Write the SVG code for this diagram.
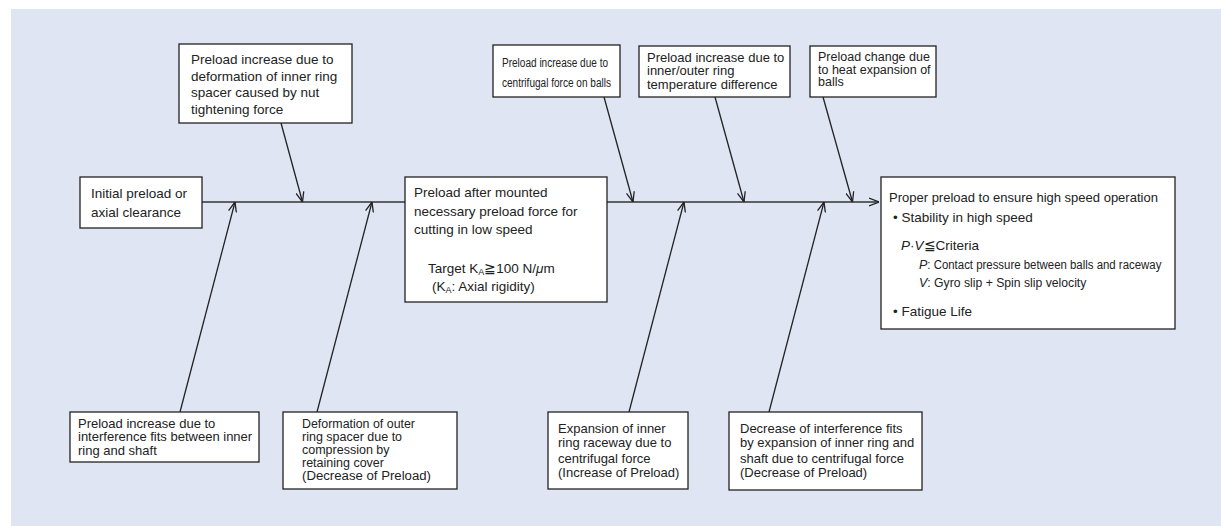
<svg xmlns="http://www.w3.org/2000/svg" width="1221" height="526" viewBox="0 0 1221 526">
<style>
.bg{fill:#dfe5f3}
.box{fill:#fff;stroke:#222;stroke-width:1.3}
.t{font-family:"Liberation Sans",Arial,sans-serif;font-size:13px;fill:#222}
.s{font-family:"Liberation Sans",Arial,sans-serif;font-size:12.5px;fill:#222}
.b{font-family:"Liberation Sans",Arial,sans-serif;font-size:13.5px;fill:#222}
.c{stroke:#222;stroke-width:1.3;fill:none}
.sp{stroke:#333;stroke-width:1.6;fill:none}
</style>
<defs>
<marker id="ah" viewBox="0 0 10 10" refX="10" refY="5" markerWidth="10" markerHeight="10" markerUnits="userSpaceOnUse" orient="auto">
<path d="M0,1 L10,5 L0,9" fill="none" stroke="#222" stroke-width="1.3"/>
</marker>
</defs>
<rect class="bg" x="11" y="9" width="1210" height="517"/>

<g id="connectors">
<line class="sp" x1="202" y1="202" x2="405" y2="202"/>
<line class="sp" x1="607" y1="202" x2="879" y2="202" marker-end="url(#ah)"/>
<line class="c" x1="281" y1="123" x2="302.5" y2="202" marker-end="url(#ah)"/>
<line class="c" x1="604" y1="97" x2="633" y2="202" marker-end="url(#ah)"/>
<line class="c" x1="715" y1="97" x2="744" y2="202" marker-end="url(#ah)"/>
<line class="c" x1="823" y1="97" x2="852.5" y2="202" marker-end="url(#ah)"/>
<line class="c" x1="180" y1="412" x2="235" y2="202" marker-end="url(#ah)"/>
<line class="c" x1="317" y1="412" x2="372" y2="202" marker-end="url(#ah)"/>
<line class="c" x1="629" y1="412" x2="684" y2="202" marker-end="url(#ah)"/>
<line class="c" x1="769" y1="412" x2="824" y2="202" marker-end="url(#ah)"/>
</g>

<g id="initial">
<rect class="box" x="80" y="177" width="122" height="51"/>
<text class="b" x="91" y="197.5">Initial preload or</text>
<text class="b" x="91" y="216.5">axial clearance</text>
</g>

<g id="top1">
<rect class="box" x="179" y="44" width="173" height="79"/>
<text class="b" x="191" y="63.5">Preload increase due to</text>
<text class="b" x="191" y="80.5">deformation of inner ring</text>
<text class="b" x="191" y="97">spacer caused by nut</text>
<text class="b" x="191" y="113.5">tightening force</text>
</g>

<g id="middle">
<rect class="box" x="405" y="177" width="202" height="125"/>
<text class="b" x="414" y="196.5">Preload after mounted</text>
<text class="b" x="414" y="215.5">necessary preload force for</text>
<text class="b" x="414" y="233.5">cutting in low speed</text>
<text class="b" x="428" y="273">Target K<tspan font-size="9" dy="1.5">A</tspan><tspan dy="-1.5">≧100 N/</tspan><tspan font-style="italic">μ</tspan>m</text>
<text class="b" x="432" y="291">(K<tspan font-size="9" dy="2">A</tspan><tspan dy="-2">: Axial rigidity)</tspan></text>
</g>

<g id="top2">
<rect class="box" x="493" y="45" width="127" height="52"/>
<text class="s" x="502" y="66.5" textLength="106" lengthAdjust="spacingAndGlyphs">Preload increase due to</text>
<text class="s" x="502" y="86.5" textLength="109" lengthAdjust="spacingAndGlyphs">centrifugal force on balls</text>
</g>

<g id="top3">
<rect class="box" x="639" y="46" width="151" height="51"/>
<text class="t" x="647" y="61.5">Preload increase due to</text>
<text class="t" x="647" y="75">inner/outer ring</text>
<text class="t" x="647" y="88.5">temperature difference</text>
</g>

<g id="top4">
<rect class="box" x="810" y="46" width="126" height="51"/>
<text class="s" x="818" y="61">Preload change due</text>
<text class="s" x="818" y="73.5">to heat expansion of</text>
<text class="s" x="818" y="86">balls</text>
</g>

<g id="result">
<rect class="box" x="881" y="177" width="294" height="152"/>
<text class="t" x="889" y="202">Proper preload to ensure high speed operation</text>
<text class="b" x="893" y="222">• Stability in high speed</text>
<text class="b" x="901" y="249.5"><tspan font-style="italic">P</tspan>·<tspan font-style="italic">V</tspan>≦Criteria</text>
<text class="s" x="919" y="268.5"><tspan font-style="italic">P</tspan><tspan textLength="234" lengthAdjust="spacingAndGlyphs">: Contact pressure between balls and raceway</tspan></text>
<text class="s" x="919" y="286.5"><tspan font-style="italic">V</tspan><tspan textLength="159" lengthAdjust="spacingAndGlyphs">: Gyro slip + Spin slip velocity</tspan></text>
<text class="b" x="893" y="315.5">• Fatigue Life</text>
</g>

<g id="bottom1">
<rect class="box" x="70" y="412" width="189" height="50"/>
<text class="t" x="78" y="427.5">Preload increase due to</text>
<text class="t" x="78" y="441">interference fits between inner</text>
<text class="t" x="78" y="454.5">ring and shaft</text>
</g>

<g id="bottom2">
<rect class="box" x="283" y="412" width="174" height="77"/>
<text class="s" x="302" y="427.5" textLength="113" lengthAdjust="spacingAndGlyphs">Deformation of outer</text>
<text class="s" x="302" y="440.5">ring spacer due to</text>
<text class="s" x="302" y="453.5">compression by</text>
<text class="s" x="302" y="466.5">retaining cover</text>
<text class="s" x="302" y="479.5" textLength="129" lengthAdjust="spacingAndGlyphs">(Decrease of Preload)</text>
</g>

<g id="bottom3">
<rect class="box" x="548" y="412" width="140" height="77"/>
<text class="t" x="558" y="433">Expansion of inner</text>
<text class="t" x="558" y="447">ring raceway due to</text>
<text class="t" x="558" y="462.5">centrifugal force</text>
<text class="t" x="558" y="477">(Increase of Preload)</text>
</g>

<g id="bottom4">
<rect class="box" x="729" y="412" width="193" height="78"/>
<text class="t" x="740" y="433">Decrease of interference fits</text>
<text class="t" x="740" y="447">by expansion of inner ring and</text>
<text class="t" x="740" y="462.5">shaft due to centrifugal force</text>
<text class="t" x="740" y="477">(Decrease of Preload)</text>
</g>
</svg>
